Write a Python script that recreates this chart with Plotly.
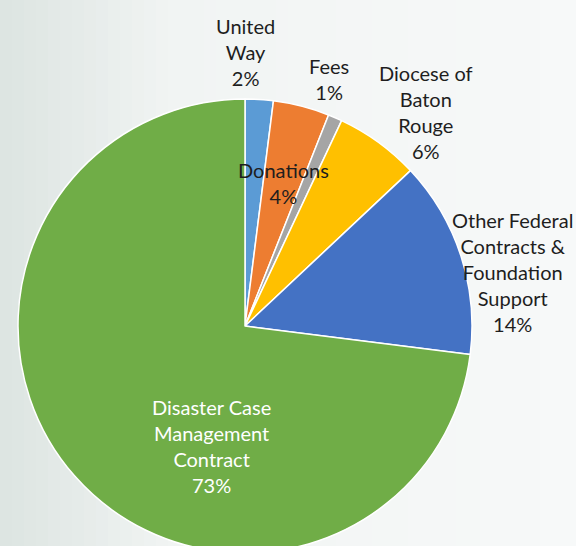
import plotly.graph_objects as go

# ---- data ----
labels = ["United Way", "Donations", "Fees", "Diocese of Baton Rouge",
          "Other Federal Contracts & Foundation Support",
          "Disaster Case Management Contract"]
values = [2, 4, 1, 6, 14, 73]
label_lines = ["United<br>Way", "Donations", "Fees", "Diocese of<br>Baton<br>Rouge",
               "Other Federal<br>Contracts &<br>Foundation<br>Support",
               "Disaster Case<br>Management<br>Contract"]
colors = ["#5B9BD5", "#ED7D31", "#A5A5A5", "#FFC000", "#4472C4", "#70AD47"]

# ---- layout geometry (pixels) ----
W, H = 576, 568
cx, cy, r = 245, 326, 227
label_pos = [(245, 52), (283, 183), (329, 79), (426, 112), (512, 272), (211, 446)]
label_colors = ["#1e1e1e", "#1e1e1e", "#1e1e1e", "#1e1e1e", "#1e1e1e", "#ffffff"]

fig = go.Figure()
fig.add_trace(go.Pie(
    labels=labels, values=values, sort=False, direction="clockwise", rotation=0,
    marker=dict(colors=colors, line=dict(color="white", width=1.5)),
    textinfo="none", hoverinfo="label+percent", showlegend=False,
    domain=dict(x=[(cx - r) / W, (cx + r) / W],
                y=[(H - cy - r) / H, (H - cy + r) / H]),
))

total = sum(values)
for txt, v, (px, py), col in zip(label_lines, values, label_pos, label_colors):
    pct = round(100 * v / total)
    fig.add_annotation(
        x=px / W, y=1 - py / H, xref="paper", yref="paper",
        text=f"{txt}<br>{pct}%", showarrow=False, align="center",
        xanchor="center", yanchor="middle",
        font=dict(family="Lato, Open Sans, sans-serif", size=20, color=col),
    )

# background gradient (left grey-green to near white)
def lerp(a, b, t):
    return tuple(int(round(a[i] + (b[i] - a[i]) * t)) for i in range(3))

c0, c1, c2 = (220, 228, 225), (241, 244, 243), (247, 249, 249)
n = 48
shapes = []
for i in range(n):
    t = (i + 0.5) / n
    if t < 0.3:
        c = lerp(c0, c1, t / 0.3)
    else:
        c = lerp(c1, c2, (t - 0.3) / 0.7)
    shapes.append(dict(type="rect", xref="paper", yref="paper",
                       x0=i / n, x1=(i + 1.05) / n, y0=0, y1=1,
                       fillcolor="rgb(%d,%d,%d)" % c, line=dict(width=0),
                       layer="below"))

fig.update_layout(
    width=W, height=H, margin=dict(l=0, r=0, t=0, b=0),
    paper_bgcolor="#f5f7f7", plot_bgcolor="rgba(0,0,0,0)",
    shapes=shapes,
)

fig.write_html("out.html", config={"displayModeBar": False},
               post_script="document.body.style.margin='0';document.body.style.overflow='hidden';document.documentElement.style.overflow='hidden';")
